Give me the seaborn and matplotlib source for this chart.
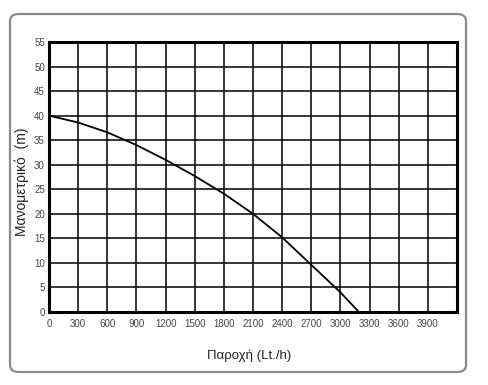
from matplotlib.patches import FancyBboxPatch
import matplotlib.pyplot as plt
import seaborn as sns
import pandas as pd

# values
FLOW = [0, 300, 600, 900, 1200, 1500, 1800, 2100, 2400, 2700, 3000, 3190]
HEAD = [40, 38.6, 36.6, 34.0, 31.0, 27.7, 24.1, 20.0, 15.2, 9.6, 4.0, 0]

X_TICKS = list(range(0, 4200, 300))
Y_TICKS = list(range(0, 60, 5))

X_LABEL = "Παροχή (Lt./h)"
Y_LABEL = "Μανομετρικό  (m)"


def main():
    sns.set_style("white")
    plt.rcParams["font.family"] = ["Liberation Sans", "DejaVu Sans"]

    data = pd.DataFrame({"flow": FLOW, "head": HEAD})

    fig = plt.figure(figsize=(4.88, 3.85), dpi=100)
    fig.patch.set_facecolor("white")

    # rounded grey frame around the whole chart
    frame = FancyBboxPatch(
        (10 / 488, 1 - 372 / 385), 456 / 488, 358 / 385,
        boxstyle="round,pad=0,rounding_size=0.018",
        transform=fig.transFigure, facecolor="none",
        edgecolor="#8a8a8a", linewidth=1.6, zorder=-1,
    )
    fig.patches.append(frame)

    ax = fig.add_axes([49 / 488, 1 - 312 / 385, 408 / 488, 270 / 385])
    ax.set_facecolor("white")

    sns.lineplot(data, x="flow", y="head", ax=ax, color="black",
                 linewidth=1.3, zorder=3)

    ax.set_xlim(0, 4200)
    ax.set_ylim(0, 55)
    ax.set_xticks(X_TICKS)
    ax.set_yticks(Y_TICKS)
    ax.set_xticks(list(range(0, 4500, 300)), minor=True)
    ax.grid(True, which="both", color="black", linewidth=1.1)
    ax.tick_params(axis="both", which="both", length=0, labelsize=7,
                   labelcolor="#444444")
    ax.tick_params(axis="x", pad=5)
    ax.tick_params(axis="y", pad=3)

    for spine in ax.spines.values():
        spine.set_visible(True)
        spine.set_color("black")
        spine.set_linewidth(2.2)

    ax.set_xlabel(X_LABEL, fontsize=9.5, color="#222222")
    ax.set_ylabel(Y_LABEL, fontsize=10, color="#222222")
    ax.xaxis.set_label_coords(0.5 - 4 / 408, -37 / 270)
    ax.yaxis.set_label_coords(-20 / 408, 0.5 - 5 / 270)

    fig.savefig("out.png", dpi=100)
    plt.close()


if __name__ == "__main__":
    main()
